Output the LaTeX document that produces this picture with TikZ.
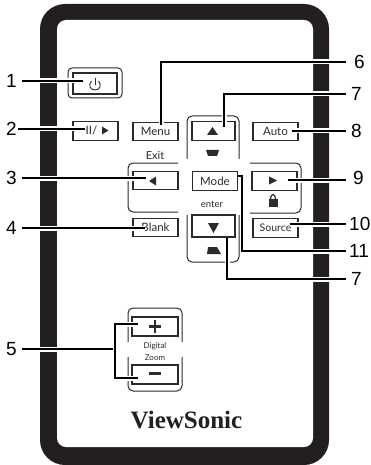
\documentclass[tikz,border=0pt]{standalone}
\usepackage{fontspec}
\setmainfont{Lato}
\newfontfamily\numfont{Liberation Sans}
\newfontfamily\brandfont{Liberation Serif}
\definecolor{bodyblack}{HTML}{231F20}
\definecolor{keygray}{HTML}{2B2B2B}
\tikzset{
  button/.style={draw=keygray,line width=1.1pt,inner sep=0pt,minimum width=45pt,minimum height=18.5pt,font=\fontsize{11.5}{12}\selectfont,text=keygray},
  caption/.style={inner sep=0pt,font=\fontsize{9.5}{10}\selectfont,text=keygray},
  frameline/.style={draw=keygray,line width=1pt,rounded corners=5pt},
  glyph/.style={fill=keygray,draw=none},
  numleft/.style={anchor=east,inner ysep=0pt,inner xsep=5pt,font=\numfont\fontsize{19}{19}\selectfont},
  numright/.style={anchor=west,inner ysep=0pt,inner xsep=5pt,font=\numfont\fontsize{19}{19}\selectfont},
  leader/.style={draw=black,line width=1.5pt,preaction={draw=white,line width=5pt}}
}
\begin{document}
\begin{tikzpicture}[x=1pt,y=-1pt]
  \useasboundingbox (0,0) rectangle (371,465);
  \fill[bodyblack,rounded corners=25pt] (40,4) rectangle (329,465);
  \fill[white,rounded corners=9pt] (57,20) rectangle (313,447);

  \draw[frameline,rounded corners=4pt] (68,68) rectangle (122,98);
  \node[button,minimum width=44pt,minimum height=21pt] (power) at (95,83.5) {};
  \draw[keygray,line width=.9pt] (91.5,81) .. controls (88,85) and (90,90) .. (95,90) .. controls (100,90) and (102,85) .. (98.5,81);
  \draw[keygray,line width=.9pt] (95,78) -- (95,85);

  \node[button] (play) at (95.5,131) {\hspace*{-8pt}II/};
  \fill[glyph] (102,126.5) -- (108.5,130.5) -- (102,134.5) -- cycle;
  \node[button] (menu) at (155.5,131.5) {Menu};
  \node[button] (auto) at (275.5,131.5) {Auto};
  \node[button] (blank) at (155.5,227.5) {Blank};
  \node[button,font=\fontsize{10.5}{11}\selectfont] (source) at (275.5,228) {Source};
  \node[button] (mode) at (215,181) {Mode};

  \node[caption,font=\fontsize{11}{11}\selectfont] (exit) at (155,156) {Exit};
  \node[caption] (enter) at (212,204) {enter};
  \draw[frameline] (178,163) -- (128,163) -- (128,212) -- (178,212);
  \node[button] (left) at (155.5,180.5) {};
  \fill[glyph] (156,176.5) -- (149,181) -- (156,185.5) -- cycle;

  \draw[frameline] (187,159) -- (187,116) -- (239,116) -- (239,159);
  \node[button,minimum width=43pt] (up) at (213.5,131) {};
  \fill[glyph] (207,135) -- (212.5,127) -- (218,135) -- cycle;
  \fill[glyph] (206,150) -- (219,150) -- (217,156) -- (208,156) -- cycle;

  \draw[frameline] (187,215) -- (187,262) -- (239,262) -- (239,215);
  \node[button,minimum width=43pt,minimum height=22pt] (down) at (213.5,226) {};
  \fill[glyph] (208,223) -- (219,223) -- (213.5,233) -- cycle;
  \fill[glyph] (208,247) -- (217,247) -- (221,254) -- (207,254) -- cycle;

  \draw[frameline] (250,163) -- (301,163) -- (301,213) -- (250,213);
  \node[button] (right) at (274.5,181) {};
  \fill[glyph] (269,176.5) -- (277,180.5) -- (269,184.5) -- cycle;
  \fill[glyph] (268.5,199) rectangle (277.5,207);
  \draw[keygray,line width=1.2pt] (270.5,199) .. controls (270.5,193) and (275.5,193) .. (275.5,199);

  \draw[frameline] (128,342) -- (128,308) -- (182,308) -- (182,342);
  \draw[frameline] (128,357) -- (128,391) -- (182,391) -- (182,357);
  \node[button,minimum width=46pt,minimum height=19pt] (plus) at (155,326.5) {};
  \node[button,minimum width=46pt,minimum height=19pt] (minus) at (155,374.5) {};
  \fill[glyph] (149,325) rectangle (161,327.5);
  \fill[glyph] (153.8,320) rectangle (156.2,332.5);
  \fill[glyph] (149,372) rectangle (161,375);
  \node[caption,font=\fontsize{8}{9}\selectfont] (digital) at (155,346) {Digital};
  \node[caption,font=\fontsize{8}{9}\selectfont] (zoom) at (155,358) {Zoom};
  \node[inner sep=0pt,font=\brandfont\bfseries\fontsize{25}{25}\selectfont,text=bodyblack] (brand) at (186.5,420) {ViewSonic};

  \coordinate (end1) at (83,81);
  \coordinate (end2) at (85,129);
  \coordinate (end3) at (146,178);
  \coordinate (end4) at (145,228);
  \coordinate (end5up) at (138,324);
  \coordinate (end5down) at (138,378);
  \coordinate (end6) at (161,125);
  \coordinate (end7up) at (224,127);
  \coordinate (end8) at (292,131);
  \coordinate (end9) at (288,180);
  \coordinate (end10) at (290,224);
  \coordinate (end11) at (238,176);
  \coordinate (end7down) at (227,238);

  \node[numleft] (n1) at (22,81) {1};
  \node[numleft,inner xsep=1pt] (n2) at (18,129) {2};
  \node[numleft] (n3) at (22,178) {3};
  \node[numleft] (n4) at (22,228) {4};
  \node[numleft] (n5) at (22,349) {5};
  \node[numright,inner xsep=8pt] (n6) at (346,62) {6};
  \node[numright] (n7up) at (346,94) {7};
  \node[numright] (n8) at (346,131) {8};
  \node[numright,inner xsep=7pt] (n9) at (346,178) {9};
  \node[numright,inner xsep=3pt] (n10) at (346,224) {10};
  \node[numright,inner xsep=3pt] (n11) at (346,251) {11};
  \node[numright] (n7down) at (346,279) {7};

  \draw[leader] (n1.east) -- (end1);
  \draw[leader] (n2.east) -- (end2);
  \draw[leader] (n3.east) -- (end3);
  \draw[leader] (n4.east) -- (end4);
  \draw[leader] (n5.east) -- (115,349);
  \draw[leader] (end5up) -- (115,324) -- (115,378) -- (end5down);
  \draw[leader] (n6.west) -| (end6);
  \draw[leader] (n7up.west) -| (end7up);
  \draw[leader] (n8.west) -- (end8);
  \draw[leader] (n9.west) ++(0,2) -- (end9);
  \draw[leader] (n10.west) -- (end10);
  \draw[leader] (n11.west) -- (242,251) -- (242,176) -- (end11);
  \draw[leader] (n7down.west) -| (end7down);
\end{tikzpicture}
\end{document}
